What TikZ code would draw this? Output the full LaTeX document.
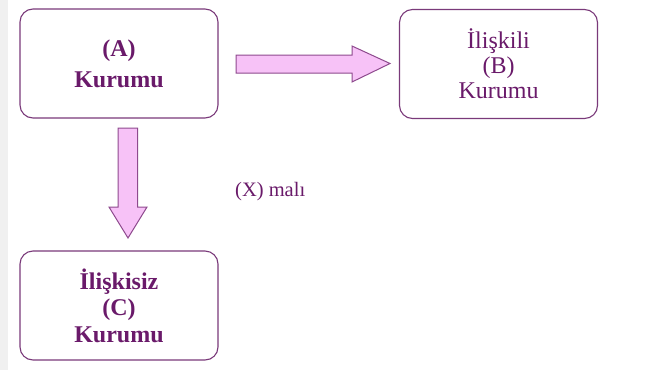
\documentclass[tikz,border=0pt]{standalone}
\usepackage{fontspec}
\setmainfont{Liberation Serif}
\definecolor{boxline}{HTML}{7A3A7A}
\definecolor{txt}{HTML}{6A1A6A}
\definecolor{arrfill}{HTML}{F7C2F7}
\definecolor{arrline}{HTML}{8E4A8E}
\definecolor{strip}{HTML}{F0F0F0}
\begin{document}
\begin{tikzpicture}[x=1pt,y=-1pt,
  box/.style={draw=boxline, line width=1.1pt, rounded corners=13pt, text=txt,
    minimum width=198pt, minimum height=109pt, align=center, inner sep=0pt},
  blockarrow/.style={draw=arrline, fill=arrfill, line width=1pt, line join=miter}]
\useasboundingbox (0,0) rectangle (645,370);
\fill[white] (0,0) rectangle (645,370);
\fill[strip] (0,0) rectangle (8,370);
\node[box, font=\fontsize{24}{31}\selectfont\bfseries] (A) at (119,63.5) {(A)\\Kurumu};
\node[box, font=\fontsize{24}{25}\selectfont] (B) at (498.5,64) {İlişkili\\(B)\\Kurumu};
\node[box, font=\fontsize{24}{26.5}\selectfont\bfseries] (C) at (119,305.5) {İlişkisiz\\(C)\\Kurumu};
\node[text=txt, font=\fontsize{20.5}{24}\selectfont, anchor=west, inner sep=0pt] (X) at (235,192) {(X) malı};
\draw[blockarrow] (236,55) -- (352,55) -- (352,46) -- (390,63.5) -- (352,82) -- (352,73) -- (236,73) -- cycle;
\draw[blockarrow] (118,128) -- (137.5,128) -- (137.5,207) -- (147,207) -- (128,238) -- (109,207) -- (118,207) -- cycle;
\end{tikzpicture}
\end{document}
